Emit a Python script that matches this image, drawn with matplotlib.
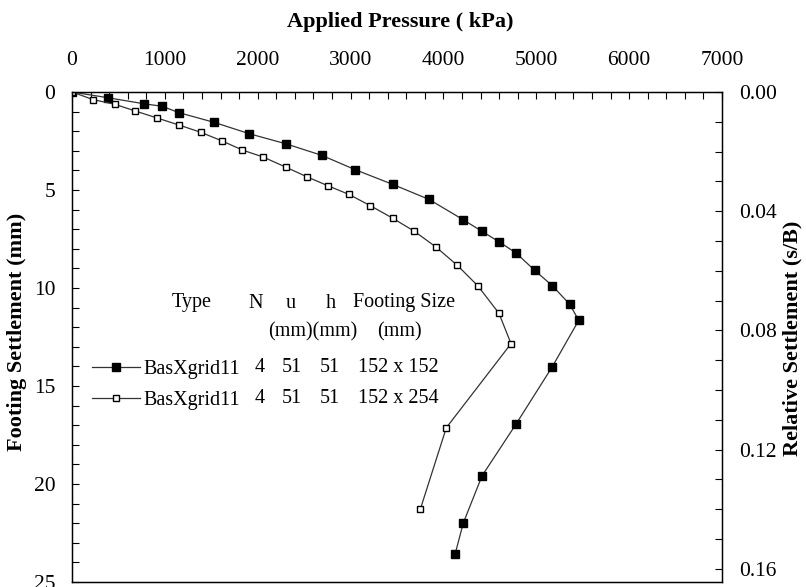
import matplotlib
matplotlib.use("Agg")
import matplotlib.pyplot as plt
from matplotlib.ticker import MultipleLocator, FormatStrFormatter

plt.rcParams['font.family'] = ['Liberation Serif', 'DejaVu Serif']

# 152 x 152 footing (filled squares)
pressure_152 = [0, 384, 775, 972, 1155, 1532, 1910, 2301, 2689, 3048, 3452, 3845,
                4214, 4415, 4598, 4781, 4983, 5172, 5360, 5457, 5172, 4785, 4415,
                4214, 4125]
settle_152 = [0, 0.29, 0.60, 0.73, 1.06, 1.55, 2.13, 2.64, 3.23, 3.96, 4.71, 5.48,
              6.52, 7.11, 7.64, 8.21, 9.10, 9.88, 10.83, 11.65, 14.02, 16.92, 19.59,
              21.99, 23.59]

# 152 x 254 footing (open squares)
pressure_254 = [0, 229, 463, 682, 919, 1149, 1389, 1618, 1834, 2060, 2301, 2527,
                2754, 2980, 3213, 3454, 3688, 3920, 4149, 4369, 4598, 4728, 4031, 3751]
settle_254 = [0, 0.39, 0.63, 0.97, 1.33, 1.68, 2.06, 2.50, 2.96, 3.32, 3.83, 4.32,
              4.78, 5.22, 5.80, 6.44, 7.11, 7.91, 8.84, 9.88, 11.29, 12.84, 17.13, 21.29]

B = 152  # footing width (mm) for relative settlement

# legend table
types = ['BasXgrid11', 'BasXgrid11']
n_vals = ['4', '4']
u_vals = ['51', '51']
h_vals = ['51', '51']
sizes = ['152 x 152', '152 x 254']

W, H = 806, 587
fig = plt.figure(figsize=(W / 100, H / 100), dpi=100)
ax = fig.add_axes([72 / W, 1 - 582 / H, 650 / W, 490 / H])

l1, = ax.plot(pressure_152, settle_152, color='#333333', lw=0.9, marker='s',
              ms=6, mfc='black', mec='black')
l2, = ax.plot(pressure_254, settle_254, color='#333333', lw=0.9, marker='s',
              ms=5, mfc='white', mec='black', mew=1)

ax.set_xlim(0, 7000)
ax.set_ylim(25, 0)
ax.xaxis.tick_top()
ax.xaxis.set_major_locator(MultipleLocator(1000))
ax.xaxis.set_minor_locator(MultipleLocator(200))
ax.yaxis.set_major_locator(MultipleLocator(5))
ax.yaxis.set_minor_locator(MultipleLocator(1))
ax.tick_params(which='both', direction='in', length=5, width=0.8, labelsize=15.5,
               top=True, bottom=False, left=True, right=False)
ax.tick_params(axis='x', pad=16)
ax.tick_params(axis='y', pad=12)
for s in ax.spines.values():
    s.set_linewidth(1.0)

ax2 = ax.twinx()
ax2.set_ylim(25 / B, 0)
ax2.yaxis.set_major_locator(MultipleLocator(0.04))
ax2.yaxis.set_minor_locator(MultipleLocator(0.01))
ax2.yaxis.set_major_formatter(FormatStrFormatter('%.2f'))
ax2.tick_params(which='both', direction='in', length=5, width=0.8, labelsize=15.5, pad=12)

# axis titles
fig.text(400 / W, 1 - 22 / H, 'Applied Pressure ( kPa)', ha='center', va='center',
         fontsize=16, fontweight='bold')
fig.text(17 / W, 1 - 332 / H, 'Footing Settlement (mm)', ha='center', va='center',
         rotation=90, fontsize=16, fontweight='bold')
fig.text(792 / W, 1 - 338 / H, 'Relative Settlement (s/B)', ha='center', va='center',
         rotation=90, fontsize=16, fontweight='bold')

# legend table header
def px(x, y, s, ha='left'):
    fig.text(x / W, 1 - y / H, s, ha=ha, va='center', fontsize=14.5)

px(172, 303, 'Type')
px(255.5, 303, 'N', 'center')
px(291, 303, 'u', 'center')
px(331, 303, 'h', 'center')
px(353, 303, 'Footing Size')
px(268, 332, '(mm)(mm)')
px(377, 332, '(mm)')

ax.legend([l1, l2], types, loc='upper left', bbox_to_anchor=(92 / W, 1 - 360 / H),
          bbox_transform=fig.transFigure, frameon=False, borderpad=0,
          borderaxespad=0, handlelength=2.4, handletextpad=0.15,
          labelspacing=0.58, fontsize=14.5)

row_y = [368, 398.5]
for i in range(2):
    px(260, row_y[i], n_vals[i], 'center')
    px(292, row_y[i], u_vals[i], 'center')
    px(330, row_y[i], h_vals[i], 'center')
    px(358, row_y[i], sizes[i])

fig.savefig('out.png', dpi=100)
